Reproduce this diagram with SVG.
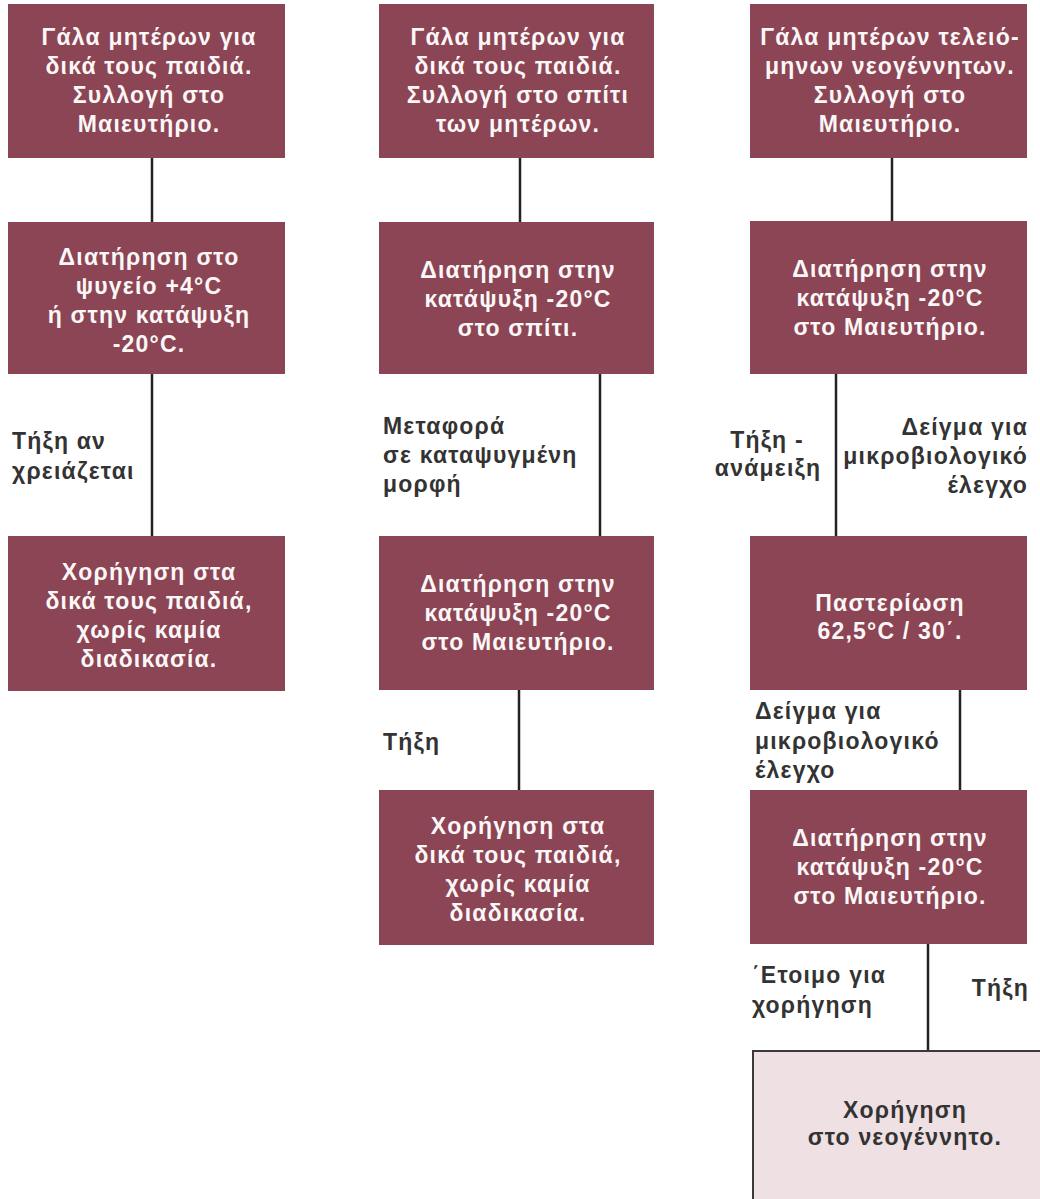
<svg xmlns="http://www.w3.org/2000/svg" width="1040" height="1199" viewBox="0 0 1040 1199">
<style>
.box{fill:#8b4555}
.pbox{fill:#efe0e3;stroke:#3a3a3a;stroke-width:2}
.bt{font-family:"Liberation Sans",Arial,sans-serif;font-weight:bold;font-size:23px;letter-spacing:1.2px;fill:#fbf7f7;text-anchor:middle}
.pt{font-family:"Liberation Sans",Arial,sans-serif;font-weight:bold;font-size:23px;letter-spacing:1.2px;fill:#333;text-anchor:middle}
.lb{font-family:"Liberation Sans",Arial,sans-serif;font-weight:bold;font-size:23px;letter-spacing:1.2px;fill:#333}
.c{stroke:#222;stroke-width:2.5;fill:none}
</style>
<rect width="1040" height="1199" fill="#ffffff"/>
<g id="connectors">
<line class="c" x1="152" y1="158" x2="152" y2="222"/>
<line class="c" x1="152" y1="374" x2="152" y2="536"/>
<line class="c" x1="520" y1="158" x2="520" y2="222"/>
<line class="c" x1="600" y1="374" x2="600" y2="536"/>
<line class="c" x1="519" y1="690" x2="519" y2="790"/>
<line class="c" x1="892" y1="158" x2="892" y2="222"/>
<line class="c" x1="836" y1="374" x2="836" y2="536"/>
<line class="c" x1="960" y1="690" x2="960" y2="790"/>
<line class="c" x1="928" y1="944" x2="928" y2="1051"/>
</g>
<g id="labels">
<text class="lb" x="12" y="449">Τήξη αν</text>
<text class="lb" x="12" y="479">χρειάζεται</text>
<text class="lb" x="383" y="434">Μεταφορά</text>
<text class="lb" x="383" y="463">σε καταψυγμένη</text>
<text class="lb" x="383" y="492">μορφή</text>
<text class="lb" x="383" y="750">Τήξη</text>
<text class="lb" x="767" y="448" text-anchor="middle">Τήξη -</text>
<text class="lb" x="768" y="476" text-anchor="middle">ανάμειξη</text>
<text class="lb" x="1028" y="435" text-anchor="end">Δείγμα για</text>
<text class="lb" x="1028" y="464" text-anchor="end">μικροβιολογικό</text>
<text class="lb" x="1028" y="493" text-anchor="end">έλεγχο</text>
<text class="lb" x="755" y="719">Δείγμα για</text>
<text class="lb" x="755" y="749">μικροβιολογικό</text>
<text class="lb" x="755" y="778">έλεγχο</text>
<text class="lb" x="752" y="983">΄Ετοιμο για</text>
<text class="lb" x="752" y="1013">χορήγηση</text>
<text class="lb" x="1029" y="996" text-anchor="end">Τήξη</text>
</g>
<g id="n1a">
<rect class="box" x="8" y="4" width="277" height="154"/>
<text class="bt" x="149" y="45">Γάλα μητέρων για</text>
<text class="bt" x="149" y="74">δικά τους παιδιά.</text>
<text class="bt" x="149" y="103">Συλλογή στο</text>
<text class="bt" x="149" y="132">Μαιευτήριο.</text>
</g>
<g id="n1b">
<rect class="box" x="8" y="222" width="277" height="152"/>
<text class="bt" x="149" y="265">Διατήρηση στο</text>
<text class="bt" x="149" y="294">ψυγείο +4°C</text>
<text class="bt" x="149" y="323">ή στην κατάψυξη</text>
<text class="bt" x="149" y="352">-20°C.</text>
</g>
<g id="n1c">
<rect class="box" x="8" y="536" width="277" height="155"/>
<text class="bt" x="149" y="580">Χορήγηση στα</text>
<text class="bt" x="149" y="609">δικά τους παιδιά,</text>
<text class="bt" x="149" y="638">χωρίς καμία</text>
<text class="bt" x="149" y="667">διαδικασία.</text>
</g>
<g id="n2a">
<rect class="box" x="379" y="4" width="275" height="154"/>
<text class="bt" x="518" y="45">Γάλα μητέρων για</text>
<text class="bt" x="518" y="74">δικά τους παιδιά.</text>
<text class="bt" x="518" y="103">Συλλογή στο σπίτι</text>
<text class="bt" x="518" y="132">των μητέρων.</text>
</g>
<g id="n2b">
<rect class="box" x="379" y="222" width="275" height="152"/>
<text class="bt" x="518" y="278">Διατήρηση στην</text>
<text class="bt" x="518" y="307">κατάψυξη -20°C</text>
<text class="bt" x="518" y="336">στο σπίτι.</text>
</g>
<g id="n2c">
<rect class="box" x="379" y="536" width="275" height="154"/>
<text class="bt" x="518" y="592">Διατήρηση στην</text>
<text class="bt" x="518" y="621">κατάψυξη -20°C</text>
<text class="bt" x="518" y="650">στο Μαιευτήριο.</text>
</g>
<g id="n2d">
<rect class="box" x="379" y="790" width="275" height="155"/>
<text class="bt" x="518" y="834">Χορήγηση στα</text>
<text class="bt" x="518" y="863">δικά τους παιδιά,</text>
<text class="bt" x="518" y="892">χωρίς καμία</text>
<text class="bt" x="518" y="921">διαδικασία.</text>
</g>
<g id="n3a">
<rect class="box" x="750" y="4" width="277" height="154"/>
<text class="bt" x="890" y="45">Γάλα μητέρων τελειό-</text>
<text class="bt" x="890" y="74">μηνων νεογέννητων.</text>
<text class="bt" x="890" y="103">Συλλογή στο</text>
<text class="bt" x="890" y="132">Μαιευτήριο.</text>
</g>
<g id="n3b">
<rect class="box" x="750" y="221" width="277" height="153"/>
<text class="bt" x="890" y="277">Διατήρηση στην</text>
<text class="bt" x="890" y="306">κατάψυξη -20°C</text>
<text class="bt" x="890" y="335">στο Μαιευτήριο.</text>
</g>
<g id="n3c">
<rect class="box" x="750" y="536" width="277" height="154"/>
<text class="bt" x="890" y="611">Παστερίωση</text>
<text class="bt" x="890" y="639">62,5°C / 30΄.</text>
</g>
<g id="n3d">
<rect class="box" x="750" y="790" width="277" height="154"/>
<text class="bt" x="890" y="846">Διατήρηση στην</text>
<text class="bt" x="890" y="875">κατάψυξη -20°C</text>
<text class="bt" x="890" y="904">στο Μαιευτήριο.</text>
</g>
<g id="n3e">
<rect class="pbox" x="753" y="1051" width="300" height="160"/>
<text class="pt" x="905" y="1118">Χορήγηση</text>
<text class="pt" x="905" y="1145">στο νεογέννητο.</text>
</g>
</svg>
